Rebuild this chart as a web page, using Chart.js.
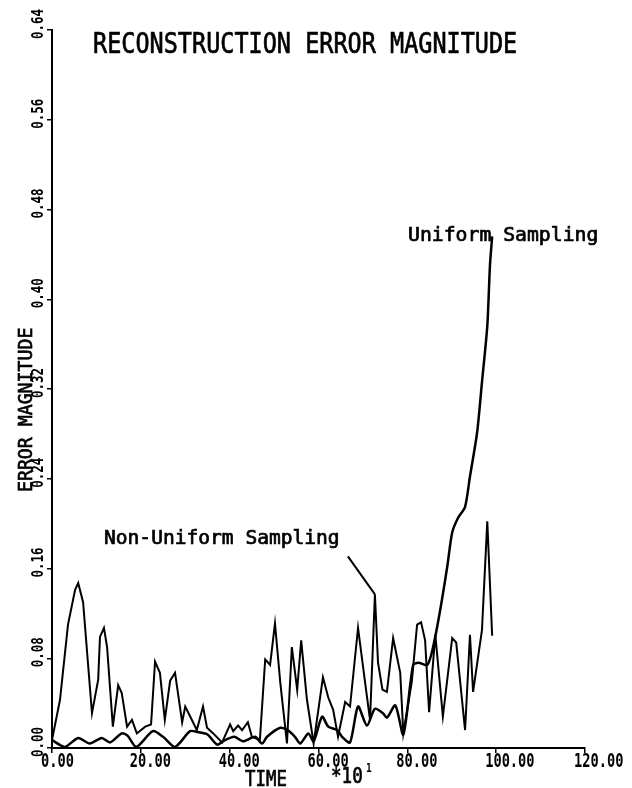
<!DOCTYPE html>
<html>
<head>
<meta charset="utf-8">
<script src="https://cdn.jsdelivr.net/npm/chart.js@4/dist/chart.umd.min.js"></script>
<style>
  html, body { margin: 0; padding: 0; background: #fff; }
  #wrap { width: 632px; height: 788px; position: relative; }
</style>
</head>
<body>
<div id="wrap"><canvas id="grafica"></canvas></div>
<script>
// datos (tiempo en unidades *10^1)
const nonUniformT = [0, 1.8, 3.6, 5.2, 5.9, 7.0, 9.0, 10.4, 10.8, 11.7, 12.4, 13.7, 14.9, 15.7, 16.9, 18.0, 19.1, 21.0, 22.3, 23.2,
  24.3, 25.4, 26.6, 27.7, 29.3, 30.0, 31.5, 32.6, 34.0, 34.9, 36.3, 38.3, 40.1, 40.8, 41.9, 42.8, 44.1, 45.0, 46.8, 48.0,
  49.1, 50.2, 51.4, 52.9, 54.0, 55.2, 56.1, 57.4, 58.9, 61.0, 62.2, 63.3, 64.4, 66.0, 67.1, 68.9, 70.5, 71.6, 72.7, 73.4,
  74.4, 75.4, 76.8, 78.4, 79.1, 81.0, 82.2, 83.1, 84.0, 84.9, 86.3, 88.0, 90.1, 91.0, 93.0, 94.1, 94.8, 96.8, 98.0, 99.1];
const nonUniformErr = [0.007, 0.043, 0.110, 0.141, 0.147, 0.130, 0.031, 0.061, 0.099, 0.107, 0.090, 0.019, 0.056, 0.049, 0.019, 0.025, 0.013, 0.019, 0.021, 0.077,
  0.067, 0.025, 0.060, 0.067, 0.023, 0.037, 0.025, 0.016, 0.037, 0.018, 0.013, 0.005, 0.021, 0.015, 0.020, 0.016, 0.023, 0.010, 0.007, 0.079,
  0.074, 0.111, 0.058, 0.004, 0.090, 0.052, 0.096, 0.043, 0.004, 0.063, 0.045, 0.034, 0.010, 0.041, 0.037, 0.107, 0.058, 0.025, 0.137, 0.076,
  0.052, 0.050, 0.098, 0.067, 0.013, 0.059, 0.110, 0.112, 0.096, 0.032, 0.101, 0.028, 0.098, 0.094, 0.016, 0.101, 0.050, 0.105, 0.202, 0.100];

const uniformT = [0, 2.9, 5.9, 8.5, 11.2, 13.1, 15.7, 17.0, 19.0, 22.7, 25.0, 27.7, 31.1, 33.0, 35.0, 37.2, 38.5, 41.0, 43.0, 45.7,
  47.3, 48.4, 51.4, 53.0, 54.7, 55.9, 57.7, 58.9, 60.8, 62.2, 64.2, 65.3, 67.1, 68.9, 70.9, 72.7, 74.5, 75.4, 77.3, 79.1,
  81.3, 82.5, 84.5, 85.8, 87.4, 89.0, 90.1, 91.4, 93.0, 94.1, 95.7, 96.8, 98.0, 98.6, 99.1];
const uniformErr = [0.007, 0.001, 0.009, 0.004, 0.009, 0.005, 0.013, 0.011, 0.001, 0.015, 0.010, 0.001, 0.015, 0.014, 0.012, 0.003, 0.006, 0.010, 0.006, 0.010,
  0.004, 0.010, 0.018, 0.016, 0.010, 0.004, 0.013, 0.006, 0.028, 0.019, 0.016, 0.010, 0.005, 0.037, 0.020, 0.035, 0.031, 0.027, 0.038, 0.012,
  0.074, 0.076, 0.074, 0.090, 0.123, 0.162, 0.192, 0.205, 0.215, 0.242, 0.281, 0.326, 0.376, 0.430, 0.456];

const xTicks = [0, 20, 40, 60, 80, 100, 120];
const yTicks = [0, 0.08, 0.16, 0.24, 0.32, 0.40, 0.48, 0.56, 0.64];

const FUENTE = '"DejaVu Sans Mono", "Liberation Mono", monospace';

function puntos(xs, ys) {
  return xs.map((x, i) => ({ x: x, y: ys[i] }));
}

// texto con escala horizontal (la fuente del trazador es estrecha)
function texto(ctx, s, x, y, size, sx, rot, peso) {
  ctx.save();
  ctx.translate(x, y);
  if (rot) ctx.rotate(rot);
  ctx.scale(sx, 1);
  ctx.font = (peso || 'bold') + ' ' + size + 'px ' + FUENTE;
  ctx.textAlign = 'left';
  ctx.textBaseline = 'alphabetic';
  ctx.fillStyle = '#000';
  ctx.fillText(s, 0, 0);
  if (peso === 'normal') {
    // un poco mas de trazo, como el plotter
    ctx.strokeStyle = '#000';
    ctx.lineWidth = 0.7;
    ctx.strokeText(s, 0, 0);
  }
  ctx.restore();
}

const rotulos = {
  id: 'rotulos',
  afterDraw(chart) {
    const ctx = chart.ctx;
    const xs = chart.scales.x, ys = chart.scales.y;

    // titulo
    texto(ctx, 'RECONSTRUCTION ERROR MAGNITUDE', 93, 53, 29, 0.81, 0, 'normal');

    // etiquetas del eje x
    xTicks.forEach(v => {
      texto(ctx, v.toFixed(2), xs.getPixelForValue(v) - 11, 767, 19, 0.72);
    });
    // etiquetas del eje y (giradas)
    yTicks.forEach(v => {
      texto(ctx, v.toFixed(2), 43, ys.getPixelForValue(v) + 9, 15, 0.83, -Math.PI / 2);
    });

    // titulos de ejes
    texto(ctx, 'ERROR MAGNITUDE', 32, 492, 20, 0.91, -Math.PI / 2, 'normal');
    texto(ctx, 'TIME', 245, 786, 22, 0.79, 0, 'normal');
    texto(ctx, '*10', 331, 783, 22, 0.8, 0, 'normal');
    texto(ctx, '1', 366, 772, 12, 0.8);

    // rotulos de las curvas
    texto(ctx, 'Uniform Sampling', 408, 241, 19, 1.04, 0, 'normal');
    texto(ctx, 'Non-Uniform Sampling', 104, 544, 19, 1.03, 0, 'normal');

    // linea guia hasta el pico de la curva no uniforme
    const px = xs.getPixelForValue(72.7), py = ys.getPixelForValue(0.137);
    ctx.save();
    ctx.strokeStyle = '#000';
    ctx.lineWidth = 2;
    ctx.beginPath();
    ctx.moveTo(px - 27, py - 38);
    ctx.lineTo(px, py);
    ctx.stroke();
    ctx.restore();
  }
};

const hoja = document.getElementById('grafica').getContext('2d');
const miGrafica = new Chart(hoja, {
  type: 'line',
  data: {
    datasets: [
      {
        label: 'Non-Uniform Sampling',
        data: puntos(nonUniformT, nonUniformErr),
        borderColor: '#000',
        borderWidth: 2,
        pointRadius: 0,
        tension: 0,
        fill: false
      },
      {
        label: 'Uniform Sampling',
        data: puntos(uniformT, uniformErr),
        borderColor: '#000',
        borderWidth: 2.5,
        pointRadius: 0,
        tension: 0.25,
        fill: false
      }
    ]
  },
  options: {
    responsive: true,
    maintainAspectRatio: false,
    animation: false,
    events: [],
    layout: { padding: { left: 47, right: 47, top: 30, bottom: 35 } },
    plugins: {
      legend: { display: false },
      tooltip: { enabled: false }
    },
    scales: {
      x: {
        type: 'linear',
        min: 0,
        max: 120,
        ticks: { display: false, stepSize: 20 },
        grid: { drawOnChartArea: false, drawTicks: true, tickLength: 5, color: '#000', lineWidth: 1.5 },
        border: { display: true, color: '#000', width: 2 }
      },
      y: {
        min: 0,
        max: 0.64,
        ticks: { display: false, stepSize: 0.08 },
        grid: { drawOnChartArea: false, drawTicks: true, tickLength: 5, color: '#000', lineWidth: 1.5 },
        border: { display: true, color: '#000', width: 2 }
      }
    }
  },
  plugins: [rotulos]
});
</script>
</body>
</html>
